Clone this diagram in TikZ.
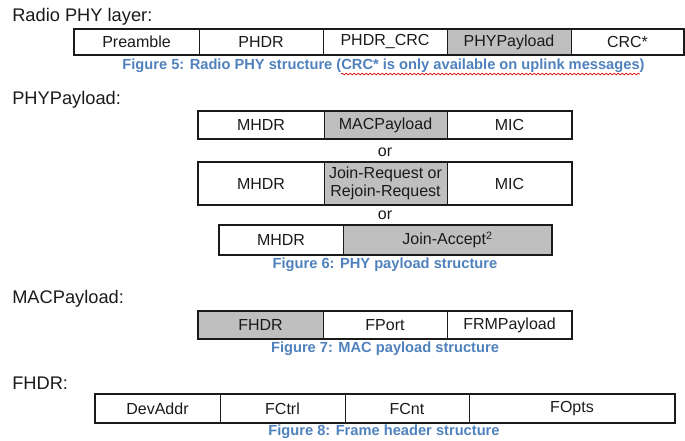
\documentclass[tikz,border=0pt]{standalone}
\usepackage{fontspec}
\setmainfont{Liberation Sans}
\usetikzlibrary{decorations.pathmorphing}
\definecolor{capblue}{HTML}{4F81BD}
\definecolor{cellgray}{HTML}{BFBFBF}
\definecolor{inkgray}{HTML}{1A1A1A}
\begin{document}
\begin{tikzpicture}[x=0.75pt,y=-0.75pt,
  cell/.style={draw=inkgray, line width=0.75pt, inner sep=0pt, outer sep=0pt,
    text=inkgray, font=\fontsize{12}{12.5}\selectfont, align=center},
  shaded/.style={cell, fill=cellgray},
  cw/.style={minimum width=#1*0.75pt},
  ch/.style={minimum height=#1*0.75pt},
  frame/.style={draw=inkgray, line width=1.6pt},
  heading/.style={anchor=west, inner sep=0pt, text=inkgray, font=\fontsize{13.7}{15}\selectfont},
  caption/.style={inner sep=0pt, text=capblue, font=\fontsize{11}{12}\selectfont\bfseries},
  ortext/.style={inner sep=0pt, text=inkgray, font=\fontsize{12}{12.5}\selectfont}]
\useasboundingbox (0,0) rectangle (685,441);

% Radio PHY layer
\node[heading] (hphy) at (12,17) {Radio PHY layer:};
\node[cell, cw=125, ch=26] (pre)  at (136.5,42) {Preamble};
\node[cell, cw=124, ch=26] (phdr) at (261,42) {PHDR};
\node[cell, cw=124, ch=26] (pcrc) at (385,42) {PHDR\_CRC};
\node[shaded, cw=124, ch=26] (ppl) at (509,42) {PHYPayload};
\node[cell, cw=113, ch=26] (crc)  at (627.5,42) {CRC*};
\draw[frame] (pre.north west) rectangle (crc.south east);
\node[caption] (cap5) at (383.5,66) {Figure 5: Radio PHY structure (CRC* is only available on uplink messages)};
\draw[red!85!black, line width=0.5pt, decorate,
  decoration={snake, segment length=3pt, amplitude=0.6pt}] (341,74) -- (640,74);

% PHYPayload
\node[heading] (hpp) at (12,100) {PHYPayload:};
\node[cell, cw=126, ch=28] (ma1) at (261,125) {MHDR};
\node[shaded, cw=123, ch=28] (mp1) at (385.5,125) {MACPayload};
\node[cell, cw=125, ch=28] (mi1) at (509.5,125) {MIC};
\draw[frame] (ma1.north west) rectangle (mi1.south east);
\node[ortext] (or1) at (385,152) {or};
\node[cell, cw=126, ch=43] (ma2) at (261,183.5) {MHDR};
\node[shaded, cw=123, ch=43, font=\fontsize{12}{13.5}\selectfont] (jr2) at (385.5,183.5) {Join-Request or\\Rejoin-Request};
\node[cell, cw=125, ch=43] (mi2) at (509.5,183.5) {MIC};
\draw[frame] (ma2.north west) rectangle (mi2.south east);
\node[ortext] (or2) at (385,215) {or};
\node[cell, cw=124, ch=30] (ma3) at (281,240) {MHDR};
\node[shaded, cw=209, ch=30] (ja3) at (447.5,240) {Join-Accept\textsuperscript{2}};
\draw[frame] (ma3.north west) rectangle (ja3.south east);
\node[caption] (cap6) at (385,265) {Figure 6: PHY payload structure};

% MACPayload
\node[heading] (hmp) at (12,299) {MACPayload:};
\node[shaded, cw=125, ch=28] (fh) at (260.5,325) {FHDR};
\node[cell, cw=124, ch=28] (fp) at (385,325) {FPort};
\node[cell, cw=125, ch=28] (frm) at (509.5,325) {FRMPayload};
\draw[frame] (fh.north west) rectangle (frm.south east);
\node[caption] (cap7) at (385,349) {Figure 7: MAC payload structure};

% FHDR
\node[heading] (hfh) at (12,383) {FHDR:};
\node[cell, cw=125, ch=29] (dev) at (157.5,408.5) {DevAddr};
\node[cell, cw=125, ch=29] (fct) at (282.5,408.5) {FCtrl};
\node[cell, cw=124, ch=29] (fcn) at (407,408.5) {FCnt};
\node[cell, cw=206, ch=29] (fop) at (572,408.5) {FOpts};
\draw[frame] (dev.north west) rectangle (fop.south east);
\node[caption] (cap8) at (384,432) {Figure 8: Frame header structure};
\end{tikzpicture}
\end{document}
